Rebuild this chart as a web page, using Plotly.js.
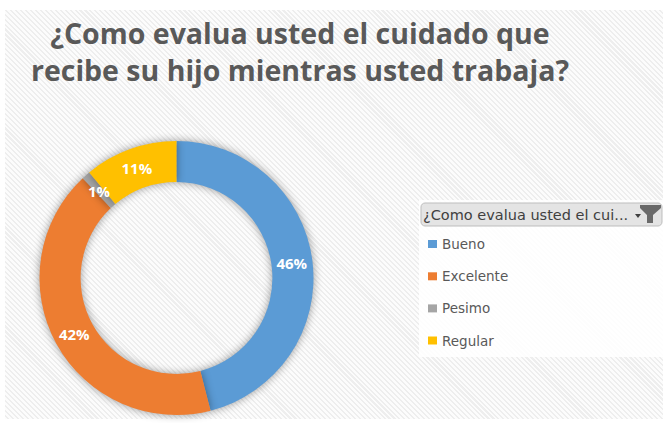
<!DOCTYPE html>
<html>
<head>
<meta charset="utf-8">
<script src="https://cdn.plot.ly/plotly-3.0.1.min.js"></script>
<style>
  html, body { margin: 0; padding: 0; background: #ffffff; }
  #wrap { position: relative; width: 663px; height: 423px; background: #ffffff; overflow: hidden; }
  #hatch { position: absolute; left: 5px; top: 10px; width: 658px; height: 409px;
    background: repeating-linear-gradient(45deg, #fcfcfc 0px, #fcfcfc 2px, #eeeeee 2px, #eeeeee 3.5px); }
  #chart { position: absolute; left: 0; top: 0; width: 663px; height: 423px; }
  .pielayer .slice path { filter: drop-shadow(0 0 4px rgba(0,0,0,0.4)); }
</style>
</head>
<body>
<div id="wrap">
  <div id="hatch"></div>
  <div id="chart"></div>
</div>
<script>
// ---- data ----
const categories = ["Bueno", "Excelente", "Pesimo", "Regular"];
const values = [46, 42, 1, 11];
const colors = ["#5B9BD5", "#ED7D31", "#A5A5A5", "#FFC000"];
const titleLines = ["¿Como evalua usted el cuidado que", "recibe su hijo mientras usted trabaja?"];
const legendHeader = "¿Como evalua usted el cui...";

// ---- helpers (pixel -> paper) ----
const W = 663, H = 423;
const px = x => x / W;
const py = y => 1 - y / H;

// donut geometry (pixels)
const cx = 176.5, cy = 278, R = 137, HOLE = 0.70;
const total = values.reduce((a, b) => a + b, 0);

// slices too narrow for Plotly's inside text get their label as an annotation
// placed at the middle of their ring sector (computed from the data)
const narrow = values.map(v => v / total < 0.03);
const sliceText = values.map((v, i) => narrow[i] ? "" : Math.round(100 * v / total) + "%");

const trace = {
  type: "pie",
  labels: categories,
  values: values,
  sort: false,
  direction: "clockwise",
  rotation: 0,
  hole: HOLE,
  marker: { colors: colors, line: { width: 0 } },
  text: sliceText,
  textinfo: "text",
  textposition: "inside",
  insidetextorientation: "horizontal",
  textfont: { family: "Open Sans, sans-serif", size: 15, color: "#ffffff", weight: "bold" },
  showlegend: false,
  hoverinfo: "label+percent",
  domain: { x: [px(cx - R), px(cx + R)], y: [py(cy + R), py(cy - R)] }
};

// ---- manual legend (built from the category / colour arrays) ----
const legendRowsY = [244, 276.3, 308.4, 340.5];
const shapes = [
  { type: "rect", xref: "paper", yref: "paper", x0: px(419), x1: px(663), y0: py(357), y1: py(200),
    fillcolor: "rgba(255,255,255,0.85)", line: { width: 0 }, layer: "below" },
  { type: "path", xref: "paper", yref: "paper",
    path: roundRect(421, 203, 662, 226, 4),
    fillcolor: "#e4e4e4", line: { color: "#bdbdbd", width: 1 } },
  { type: "path", xref: "paper", yref: "paper",
    path: pathPx([[635, 214], [641, 214], [638, 218]]),
    fillcolor: "#404040", line: { width: 0 } },
  { type: "path", xref: "paper", yref: "paper",
    path: pathPx([[640, 205], [661, 205], [661, 208], [653, 215], [653, 223], [647, 223], [647, 215], [640, 208]]),
    fillcolor: "#6a6a6a", line: { width: 0 } }
];
const annotations = [
  { xref: "paper", yref: "paper", x: px(421), y: py(215), xanchor: "left", yanchor: "middle",
    text: legendHeader, showarrow: false,
    font: { family: "DejaVu Sans, sans-serif", size: 14.5, color: "#404040" } }
];
categories.forEach((c, i) => {
  const yc = legendRowsY[i];
  shapes.push({ type: "rect", xref: "paper", yref: "paper",
    x0: px(428), x1: px(437), y0: py(yc + 4), y1: py(yc - 4),
    fillcolor: colors[i], line: { width: 0 } });
  annotations.push({ xref: "paper", yref: "paper", x: px(440), y: py(yc), xanchor: "left", yanchor: "middle",
    text: c, showarrow: false,
    font: { family: "DejaVu Sans, sans-serif", size: 13.5, color: "#595959" } });
});

// labels for narrow slices
let cum = 0;
values.forEach((v, i) => {
  const mid = (cum + v / 2) / total * 2 * Math.PI;
  cum += v;
  if (!narrow[i]) return;
  const rm = R * (1 + HOLE) / 2;
  annotations.push({ xref: "paper", yref: "paper",
    x: px(cx + rm * Math.sin(mid)), y: py(cy - rm * Math.cos(mid)),
    xanchor: "center", yanchor: "middle", showarrow: false,
    text: Math.round(100 * v / total) + "%",
    font: { family: "Open Sans, sans-serif", size: 15, color: "#ffffff", weight: "bold" } });
});

function pathPx(pts) {
  return pts.map((p, i) => (i ? "L" : "M") + px(p[0]).toFixed(5) + "," + py(p[1]).toFixed(5)).join(" ") + " Z";
}
function roundRect(x0, y0, x1, y1, r) {
  const pts = [];
  const corners = [[x1 - r, y0 + r, -90], [x1 - r, y1 - r, 0], [x0 + r, y1 - r, 90], [x0 + r, y0 + r, 180]];
  corners.forEach(([ccx, ccy, a0]) => {
    for (let k = 0; k <= 4; k++) {
      const a = (a0 + k * 22.5) * Math.PI / 180;
      pts.push([ccx + r * Math.cos(a), ccy + r * Math.sin(a)]);
    }
  });
  return pathPx(pts);
}

const layout = {
  width: W, height: H,
  margin: { l: 0, r: 0, t: 0, b: 0 },
  paper_bgcolor: "rgba(0,0,0,0)",
  plot_bgcolor: "rgba(0,0,0,0)",
  title: {
    text: titleLines.join("<br>"),
    font: { family: "Open Sans, sans-serif", size: 28.5, color: "#595959", weight: "bold" },
    x: px(300), xanchor: "center", xref: "paper",
    y: py(44), yanchor: "top", yref: "paper"
  },
  uniformtext: { mode: "show", minsize: 15 },
  shapes: shapes,
  annotations: annotations,
  showlegend: false
};

Plotly.newPlot("chart", [trace], layout, { displayModeBar: false, staticPlot: true });
</script>
</body>
</html>
